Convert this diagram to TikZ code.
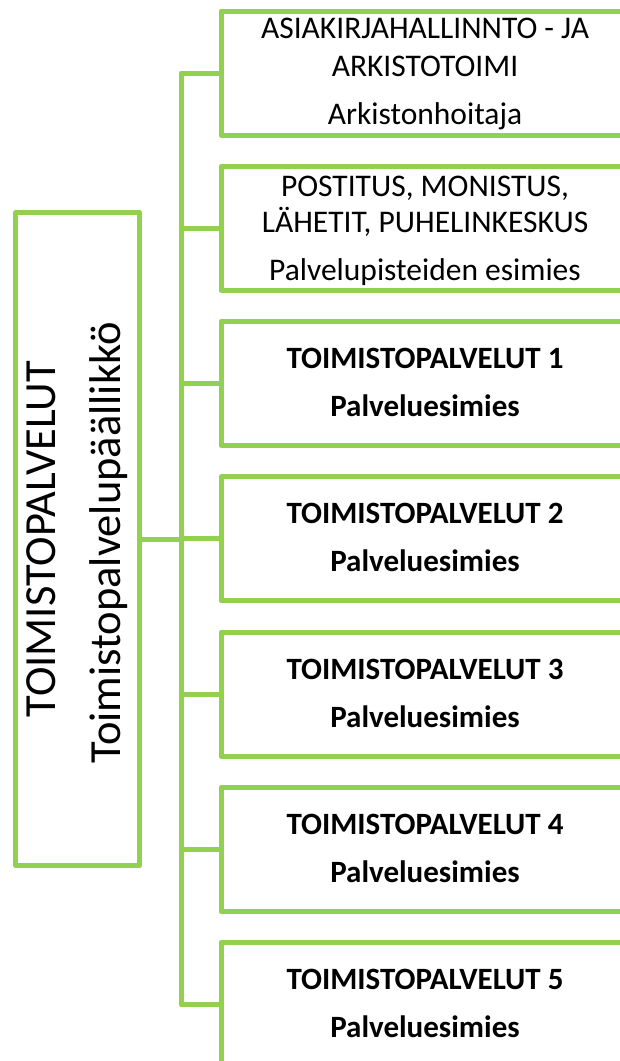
\documentclass[tikz,border=0pt]{standalone}
\usepackage{fontspec}
\setmainfont{Carlito}
\definecolor{grn}{HTML}{92D050}
\tikzset{
  unitbox/.style={draw=grn, line width=5pt, line join=round, fill=white,
    minimum width=408pt, minimum height=124pt, inner sep=0pt, outer sep=0pt},
  headbox/.style={draw=grn, line width=5pt, line join=round, fill=white,
    minimum width=124pt, minimum height=653pt, inner sep=0pt, outer sep=0pt},
  conn/.style={draw=grn, line width=5pt, line join=round},
  txt/.style={anchor=base, inner sep=0pt, font=\fontsize{31.5}{38}\selectfont},
  btxt/.style={anchor=base, inner sep=0pt, font=\fontsize{31}{38}\selectfont\bfseries},
  htxt/.style={anchor=base, inner sep=0pt, rotate=90, font=\fontsize{44.5}{52}\selectfont}
}
\begin{document}
\begin{tikzpicture}[x=1pt,y=-1pt]
\useasboundingbox (0,0) rectangle (619,1061);
\coordinate (sx) at (181,0);
% head box
\node[headbox] (head) at (77.8,539) {};
\node[htxt] (h1) at (55,539) {TOIMISTOPALVELUT};
\node[htxt] (h2) at (120,543) {Toimistopalvelupäällikkö};
% unit boxes (top edges 11 + 155.3 i)
\node[unitbox] (b1) at (425,73) {};
\node[unitbox] (b2) at (425,228.3) {};
\node[unitbox] (b3) at (425,383.6) {};
\node[unitbox] (b4) at (425,538.9) {};
\node[unitbox] (b5) at (425,694.2) {};
\node[unitbox] (b6) at (425,849.5) {};
\node[unitbox] (b7) at (425,1004.8) {};
% texts
\node[txt] (t1a) at (425,38) {ASIAKIRJAHALLINNTO - JA};
\node[txt] (t1b) at (425,76) {ARKISTOTOIMI};
\node[txt] (t1c) at (425,124) {Arkistonhoitaja};
\node[txt] (t2a) at (425,196) {POSTITUS, MONISTUS,};
\node[txt] (t2b) at (425,232) {LÄHETIT, PUHELINKESKUS};
\node[txt] (t2c) at (425,280) {Palvelupisteiden esimies};
\foreach \i/\t in {3/321.6,4/476.9,5/632.2,6/787.5,7/942.8}{
  \pgfmathsetmacro{\ya}{\t+47}
  \pgfmathsetmacro{\yb}{\t+95}
  \pgfmathtruncatemacro{\n}{\i-2}
  \node[btxt] (t\i a) at (425,\ya) {TOIMISTOPALVELUT \n};
  \node[btxt] (t\i b) at (425,\yb) {Palveluesimies};
}
% connectors
\draw[conn] (b1.west) -- (b1.west -| sx) -- (b7.west -| sx) -- (b7.west);
\foreach \i in {2,...,6}{
  \draw[conn] (b\i.west) -- (b\i.west -| sx);
}
\draw[conn] (head.east) -- (head.east -| sx);
\end{tikzpicture}
\end{document}
